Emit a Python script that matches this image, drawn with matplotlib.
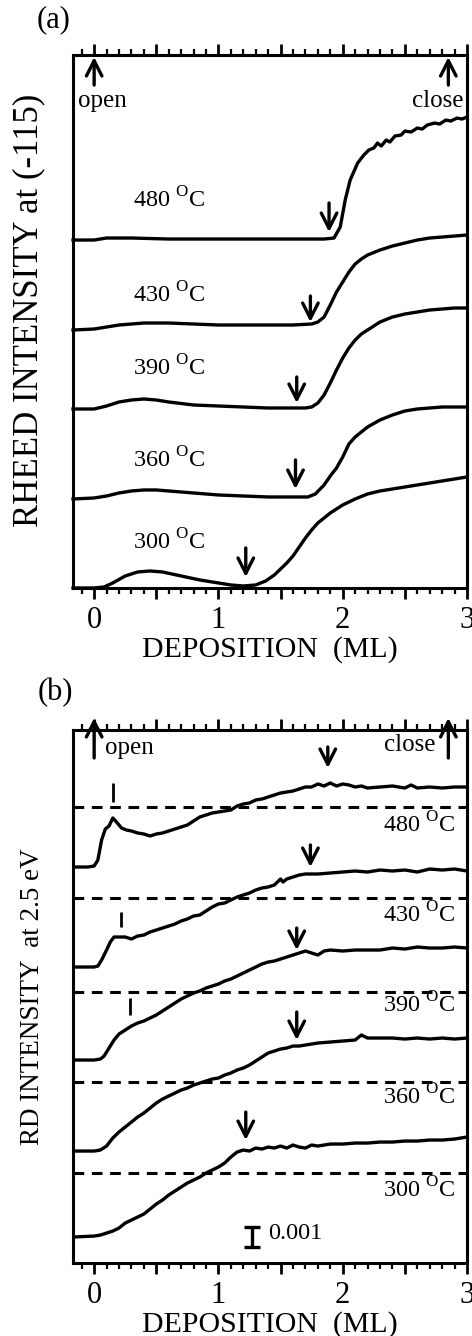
import matplotlib
matplotlib.use("Agg")
import matplotlib.pyplot as plt
from matplotlib.ticker import MultipleLocator, FuncFormatter

plt.rcParams['font.family'] = 'Liberation Serif'
plt.rcParams['mathtext.fontset'] = 'custom'
plt.rcParams['mathtext.rm'] = 'Liberation Serif'

temps = ["480", "430", "390", "360", "300"]

# ---- (a) RHEED intensity, curves offset (arb. units) ----
a480_x = [-0.17, 0.0, 0.1, 0.3, 0.6, 1.0, 1.4, 1.7, 1.85, 1.93, 1.98, 2.02, 2.06, 2.12, 2.17, 2.21, 2.25, 2.28,
          2.31, 2.35, 2.38, 2.42, 2.47, 2.5, 2.55, 2.6, 2.64, 2.68, 2.74, 2.78, 2.83, 2.87, 2.92, 2.96, 3.0]
a480_y = [348, 348, 350, 350, 349, 349, 349, 349, 349, 350, 361, 388, 408, 425, 433, 438, 440, 445,
          442, 448, 446, 452, 453, 457, 456, 460, 459, 463, 465, 464, 468, 467, 470, 469, 471]
a430_x = [-0.17, 0.0, 0.2, 0.4, 0.6, 0.8, 1.0, 1.2, 1.4, 1.6, 1.75, 1.8, 1.85, 1.9, 1.95, 2.0, 2.05, 2.1,
          2.15, 2.2, 2.3, 2.4, 2.5, 2.6, 2.7, 2.8, 2.9, 3.0]
a430_y = [258, 259, 263, 265, 265, 264, 263, 263, 263, 263, 264, 266, 271, 283, 296, 306, 316, 324,
          329, 333, 338, 342, 345, 348, 350, 351, 352, 353]
a390_x = [-0.17, 0.0, 0.1, 0.2, 0.3, 0.4, 0.5, 0.6, 0.8, 1.0, 1.2, 1.4, 1.6, 1.7, 1.75, 1.8, 1.85, 1.9,
          1.95, 2.0, 2.05, 2.1, 2.15, 2.2, 2.3, 2.4, 2.5, 2.6, 2.7, 2.8, 2.9, 3.0]
a390_y = [179, 179, 182, 186, 188, 189, 188, 186, 183, 182, 181, 180, 180, 180, 181, 185, 193, 205,
          218, 230, 240, 248, 254, 258, 266, 271, 274, 276, 278, 279, 280, 280]
a360_x = [-0.17, 0.0, 0.1, 0.2, 0.3, 0.4, 0.5, 0.6, 0.8, 1.0, 1.2, 1.4, 1.6, 1.72, 1.78, 1.85, 1.9, 1.95,
          2.0, 2.05, 2.1, 2.15, 2.2, 2.3, 2.4, 2.5, 2.6, 2.7, 2.8, 2.9, 3.0]
a360_y = [89, 90, 92, 95, 97, 98, 98, 97, 95, 93, 92, 91, 91, 91, 94, 103, 112, 120,
          131, 144, 151, 156, 161, 168, 173, 177, 179, 180, 181, 181, 181]
a300_x = [-0.17, 0.0, 0.08, 0.15, 0.25, 0.35, 0.45, 0.55, 0.7, 0.85, 1.0, 1.1, 1.2, 1.3, 1.38, 1.45, 1.5,
          1.55, 1.6, 1.65, 1.7, 1.75, 1.8, 1.85, 1.9, 1.95, 2.0, 2.1, 2.2, 2.3, 2.4, 2.5, 2.6, 2.7, 2.8,
          2.9, 3.0]
a300_y = [0, 0, 1, 5, 12, 16, 17, 16, 12, 8, 5, 3, 2, 3, 7, 13, 19,
          25, 32, 41, 50, 58, 65, 70, 75, 79, 83, 89, 94, 97, 99, 101, 103, 105, 107,
          109, 111]

a_arrow_x = [1.89, 1.74, 1.63, 1.62, 1.22]
a_arrow_tip = [356, 266, 185, 99, 11]
a_arrow_top = [385, 292, 211, 128, 40]
a_label_y = [388, 293, 220, 128, 46]

# ---- (b) RD intensity at 2.5 eV ----
b480_x = [-0.17, -0.05, 0.0, 0.03, 0.06, 0.09, 0.12, 0.15, 0.18, 0.22, 0.26, 0.3, 0.35, 0.4, 0.45, 0.5,
          0.55, 0.6, 0.65, 0.7, 0.75, 0.8, 0.85, 0.9, 0.95, 1.0, 1.05, 1.1, 1.15, 1.2, 1.25, 1.3, 1.35,
          1.4, 1.45, 1.5, 1.55, 1.6, 1.65, 1.7, 1.75, 1.8, 1.85, 1.9, 1.95, 2.0, 2.05, 2.1, 2.15, 2.2,
          2.3, 2.4, 2.5, 2.55, 2.6, 2.7, 2.8, 2.9, 3.0]
b480_y = [396, 396, 397, 403, 423, 434, 437, 445, 441, 435, 433, 432, 430, 429, 427, 429,
          430, 432, 434, 436, 438, 442, 446, 448, 450, 451, 452, 453, 457, 459, 460, 463, 464,
          466, 468, 470, 471, 472, 474, 476, 476, 479, 477, 480, 477, 479, 478, 476, 477, 475,
          476, 477, 475, 478, 475, 476, 475, 476, 476]
b430_x = [-0.17, 0.0, 0.03, 0.06, 0.1, 0.13, 0.16, 0.2, 0.25, 0.3, 0.35, 0.4, 0.45, 0.5, 0.55, 0.6,
          0.65, 0.7, 0.75, 0.8, 0.85, 0.9, 0.95, 1.0, 1.05, 1.1, 1.15, 1.2, 1.25, 1.3, 1.35, 1.4,
          1.45, 1.5, 1.52, 1.55, 1.6, 1.65, 1.7, 1.8, 1.9, 2.0, 2.1, 2.2, 2.3, 2.4, 2.5, 2.6, 2.7,
          2.8, 2.9, 3.0]
b430_y = [296, 296, 297, 303, 313, 321, 326, 326, 326, 324, 327, 328, 331, 333, 335, 337,
          339, 342, 344, 347, 348, 352, 356, 359, 360, 363, 366, 368, 370, 373, 375, 376,
          378, 384, 381, 384, 386, 388, 389, 389, 390, 391, 392, 391, 393, 392, 393, 391, 394,
          393, 394, 392]
b390_x = [-0.17, 0.0, 0.05, 0.08, 0.12, 0.16, 0.2, 0.25, 0.3, 0.35, 0.4, 0.45, 0.5, 0.55, 0.6, 0.65,
          0.7, 0.75, 0.8, 0.85, 0.9, 0.95, 1.0, 1.05, 1.1, 1.15, 1.2, 1.25, 1.3, 1.35, 1.4, 1.45,
          1.5, 1.55, 1.6, 1.65, 1.7, 1.75, 1.8, 1.85, 1.9, 2.0, 2.1, 2.2, 2.3, 2.4, 2.5, 2.6, 2.7,
          2.8, 2.9, 3.0]
b390_y = [203, 203, 204, 207, 215, 223, 229, 233, 237, 240, 242, 245, 248, 252, 256, 260,
          264, 267, 270, 272, 275, 277, 279, 282, 284, 287, 290, 293, 296, 299, 301, 302,
          304, 306, 308, 310, 312, 310, 308, 312, 313, 312, 313, 313, 313, 315, 314, 316, 315,
          315, 316, 315]
b360_x = [-0.17, 0.0, 0.05, 0.1, 0.15, 0.2, 0.25, 0.3, 0.35, 0.4, 0.45, 0.5, 0.55, 0.6, 0.65, 0.7,
          0.75, 0.8, 0.85, 0.9, 0.95, 1.0, 1.05, 1.1, 1.15, 1.2, 1.25, 1.3, 1.35, 1.4, 1.45, 1.5,
          1.55, 1.6, 1.65, 1.7, 1.8, 1.9, 2.0, 2.1, 2.15, 2.2, 2.3, 2.4, 2.5, 2.6, 2.7, 2.8, 2.9, 3.0]
b360_y = [112, 112, 113, 117, 125, 131, 136, 141, 146, 150, 155, 160, 164, 167, 170, 173,
          175, 178, 180, 182, 184, 185, 188, 190, 193, 195, 198, 202, 206, 210, 212, 214,
          215, 217, 217, 218, 220, 221, 222, 223, 228, 225, 225, 225, 224, 225, 224, 225, 224, 225]
b300_x = [-0.17, 0.0, 0.05, 0.1, 0.15, 0.2, 0.25, 0.3, 0.35, 0.4, 0.45, 0.5, 0.55, 0.6, 0.65, 0.7,
          0.75, 0.8, 0.85, 0.9, 0.95, 1.0, 1.05, 1.1, 1.15, 1.2, 1.25, 1.3, 1.35, 1.4, 1.45, 1.5,
          1.55, 1.6, 1.65, 1.7, 1.75, 1.8, 1.9, 2.0, 2.1, 2.2, 2.3, 2.4, 2.5, 2.6, 2.7, 2.8, 2.9, 3.0]
b300_y = [26, 27, 28, 30, 32, 35, 40, 43, 46, 49, 54, 59, 63, 68, 72, 76,
          80, 83, 86, 90, 93, 96, 100, 106, 111, 113, 112, 115, 114, 116, 115, 117,
          115, 118, 116, 115, 118, 117, 119, 119, 120, 120, 121, 121, 122, 122, 123, 123, 124, 126]

b_zero_y = [456, 365, 271, 181, 90]          # dashed reference levels
b_arrow_x = [1.88, 1.74, 1.63, 1.63, 1.22]
b_arrow_tip = [495, 396, 313, 223, 123]
b_arrow_top = [516, 418, 335, 251, 151]
b_label_y = [438, 348, 258, 166, 73]
b_mark_x = [0.15, 0.22, 0.29]               # small vertical markers
b_mark_lo = [461, 336, 248]
b_mark_hi = [480, 351, 265]
scale_x = 1.27
scale_lo, scale_hi = 16, 36                  # 0.001 scale bar

fig = plt.figure(figsize=(4.72, 13.36), dpi=100)
ax_a = fig.add_axes([0.1547, 0.5599, 0.8347, 0.3989])
ax_b = fig.add_axes([0.1547, 0.0546, 0.8347, 0.3990])


def style_axis(ax):
    ax.set_xlim(-0.17, 3.0)
    ax.set_ylim(0, 533)
    ax.xaxis.set_major_locator(MultipleLocator(0.5))
    ax.xaxis.set_minor_locator(MultipleLocator(0.1))
    ax.xaxis.set_major_formatter(FuncFormatter(
        lambda v, p: "%d" % round(v) if abs(v - round(v)) < 1e-6 else ""))
    ax.tick_params(axis='x', which='major', direction='out', length=8, width=2.0,
                   top=True, labelsize=22, pad=5)
    ax.tick_params(axis='x', which='minor', direction='out', length=4, width=1.6, top=True)
    ax.set_yticks([])
    for s in ax.spines.values():
        s.set_linewidth(2.2)
    ax.set_xlabel("DEPOSITION  (ML)", fontsize=21.5, labelpad=1)


def arrow(ax, x, start, end):
    ax.annotate("", xy=(x, end), xytext=(x, start),
                arrowprops=dict(arrowstyle="->,head_length=0.55,head_width=0.28",
                                lw=2.4, color='k', shrinkA=0, shrinkB=0, mutation_scale=20),
                annotation_clip=False)


# panel (a)
style_axis(ax_a)
for xs, ys in [(a480_x, a480_y), (a430_x, a430_y), (a390_x, a390_y), (a360_x, a360_y), (a300_x, a300_y)]:
    ax_a.plot(xs, ys, color='k', lw=2.4, solid_joinstyle='round', clip_on=False)
for i in range(5):
    arrow(ax_a, a_arrow_x[i], a_arrow_top[i], a_arrow_tip[i])
    ax_a.text(0.31, a_label_y[i], temps[i] + r" $^{\rm O}$C", fontsize=17.5, va='center', ha='left')
arrow(ax_a, 0.0, 503, 531)
arrow(ax_a, 2.85, 503, 531)
ax_a.text(-0.13, 487, "open", fontsize=18, va='center', ha='left')
ax_a.text(2.97, 487, "close", fontsize=18, va='center', ha='right')
fig.text(29 / 472, 1 - 310 / 1336, "RHEED INTENSITY at (-115)", rotation=90,
         fontsize=25, ha='center', va='center')
fig.text(54 / 472, 1 - 20 / 1336, "(a)", fontsize=22, ha='center', va='center')

# panel (b)
style_axis(ax_b)
for yz in b_zero_y:
    ax_b.axhline(yz, color='k', lw=2.2, ls=(0, (3.5, 2.5)))
for xs, ys in [(b480_x, b480_y), (b430_x, b430_y), (b390_x, b390_y), (b360_x, b360_y), (b300_x, b300_y)]:
    ax_b.plot(xs, ys, color='k', lw=2.4, solid_joinstyle='round')
for i in range(5):
    arrow(ax_b, b_arrow_x[i], b_arrow_top[i], b_arrow_tip[i])
    ax_b.text(2.91, b_label_y[i], temps[i] + r" $^{\rm O}$C", fontsize=17.5, va='center', ha='right')
ax_b.vlines(b_mark_x, b_mark_lo, b_mark_hi, color='k', lw=2.0)
ax_b.errorbar([scale_x], [(scale_lo + scale_hi) / 2], yerr=[(scale_hi - scale_lo) / 2],
              color='k', lw=2.4, capsize=6, capthick=2.4)
ax_b.text(1.40, 30, "0.001", fontsize=17.5, va='center', ha='left')
arrow(ax_b, 0.0, 505, 545)
arrow(ax_b, 2.85, 505, 545)
ax_b.text(0.09, 515, "open", fontsize=18, va='center', ha='left')
ax_b.text(2.75, 518, "close", fontsize=18, va='center', ha='right')
fig.text(33 / 472, 1 - 997 / 1336, "RD INTENSITY  at 2.5 eV", rotation=90,
         fontsize=19.5, ha='center', va='center')
fig.text(55 / 472, 1 - 693 / 1336, "(b)", fontsize=22, ha='center', va='center')

fig.savefig("out.png", dpi=100)
